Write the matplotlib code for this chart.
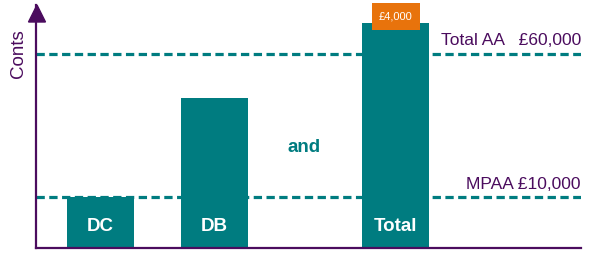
import matplotlib.pyplot as plt
from matplotlib.patches import Polygon

plt.rcParams['font.family'] = ['Liberation Sans', 'DejaVu Sans']

# schematic values (arbitrary "conts" units)
labels = ['DC', 'DB', 'Total']
values = [10, 29.4, 44.1]
extra_label = '£4,000'
extra_value = 5.2
aa_value = 38.0
mpaa_value = 10.0
aa_text = 'Total AA   £60,000'
mpaa_text = 'MPAA £10,000'

teal = '#007c80'
purple = '#4b0c5e'
orange = '#e8730c'

fig = plt.figure(figsize=(6, 2.64), dpi=100)
ax = fig.add_axes([36/600, 16/264, 545/600, 243/264])
ax.set_xlim(0, 545)
ax.set_ylim(0, 47.6)

xpos = [64.5, 178, 359.5]
bw = 67

# dashed limits (drawn under bars)
for v in [aa_value, mpaa_value]:
    ax.axhline(v, color=teal, lw=2.3, dashes=(2.6, 1.4), zorder=1)

bars = ax.bar(xpos, values, width=bw, color=teal, zorder=2)
for x, lab in zip(xpos, labels):
    ax.text(x, 4.3, lab, color='white', fontsize=13.5, fontweight='bold',
            ha='center', va='center', zorder=3)

# orange add-on on top of the total
ax.bar(xpos[2], extra_value, bottom=values[2] - 1.4, width=48, color=orange,
       zorder=3, clip_on=False)
ax.text(xpos[2], values[2] - 1.4 + extra_value / 2, extra_label, color='white',
        fontsize=8, ha='center', va='center', zorder=4)

ax.text(268.5, 19.6, 'and', color=teal, fontsize=13.5, fontweight='bold',
        ha='center', va='center')
ax.text(545, aa_value + 1.2, aa_text, color=purple, fontsize=12.5,
        ha='right', va='bottom')
ax.text(545, mpaa_value + 1.0, mpaa_text, color=purple, fontsize=12.5,
        ha='right', va='bottom')

for s in ['top', 'right']:
    ax.spines[s].set_visible(False)
for s in ['left', 'bottom']:
    ax.spines[s].set_color(purple)
    ax.spines[s].set_linewidth(1.6)
ax.set_xticks([])
ax.set_yticks([])

fig.text(18/600, 1 - 54/264, 'Conts', rotation=90, color=purple, fontsize=13.5,
         ha='center', va='center')

# arrow head on the y axis
fig.patches.append(Polygon([(28.5/600, 1 - 22/264), (45.5/600, 1 - 22/264),
                            (37/600, 1 - 5/264)], closed=True,
                           transform=fig.transFigure, color=purple))

fig.savefig('out.png', dpi=100)
